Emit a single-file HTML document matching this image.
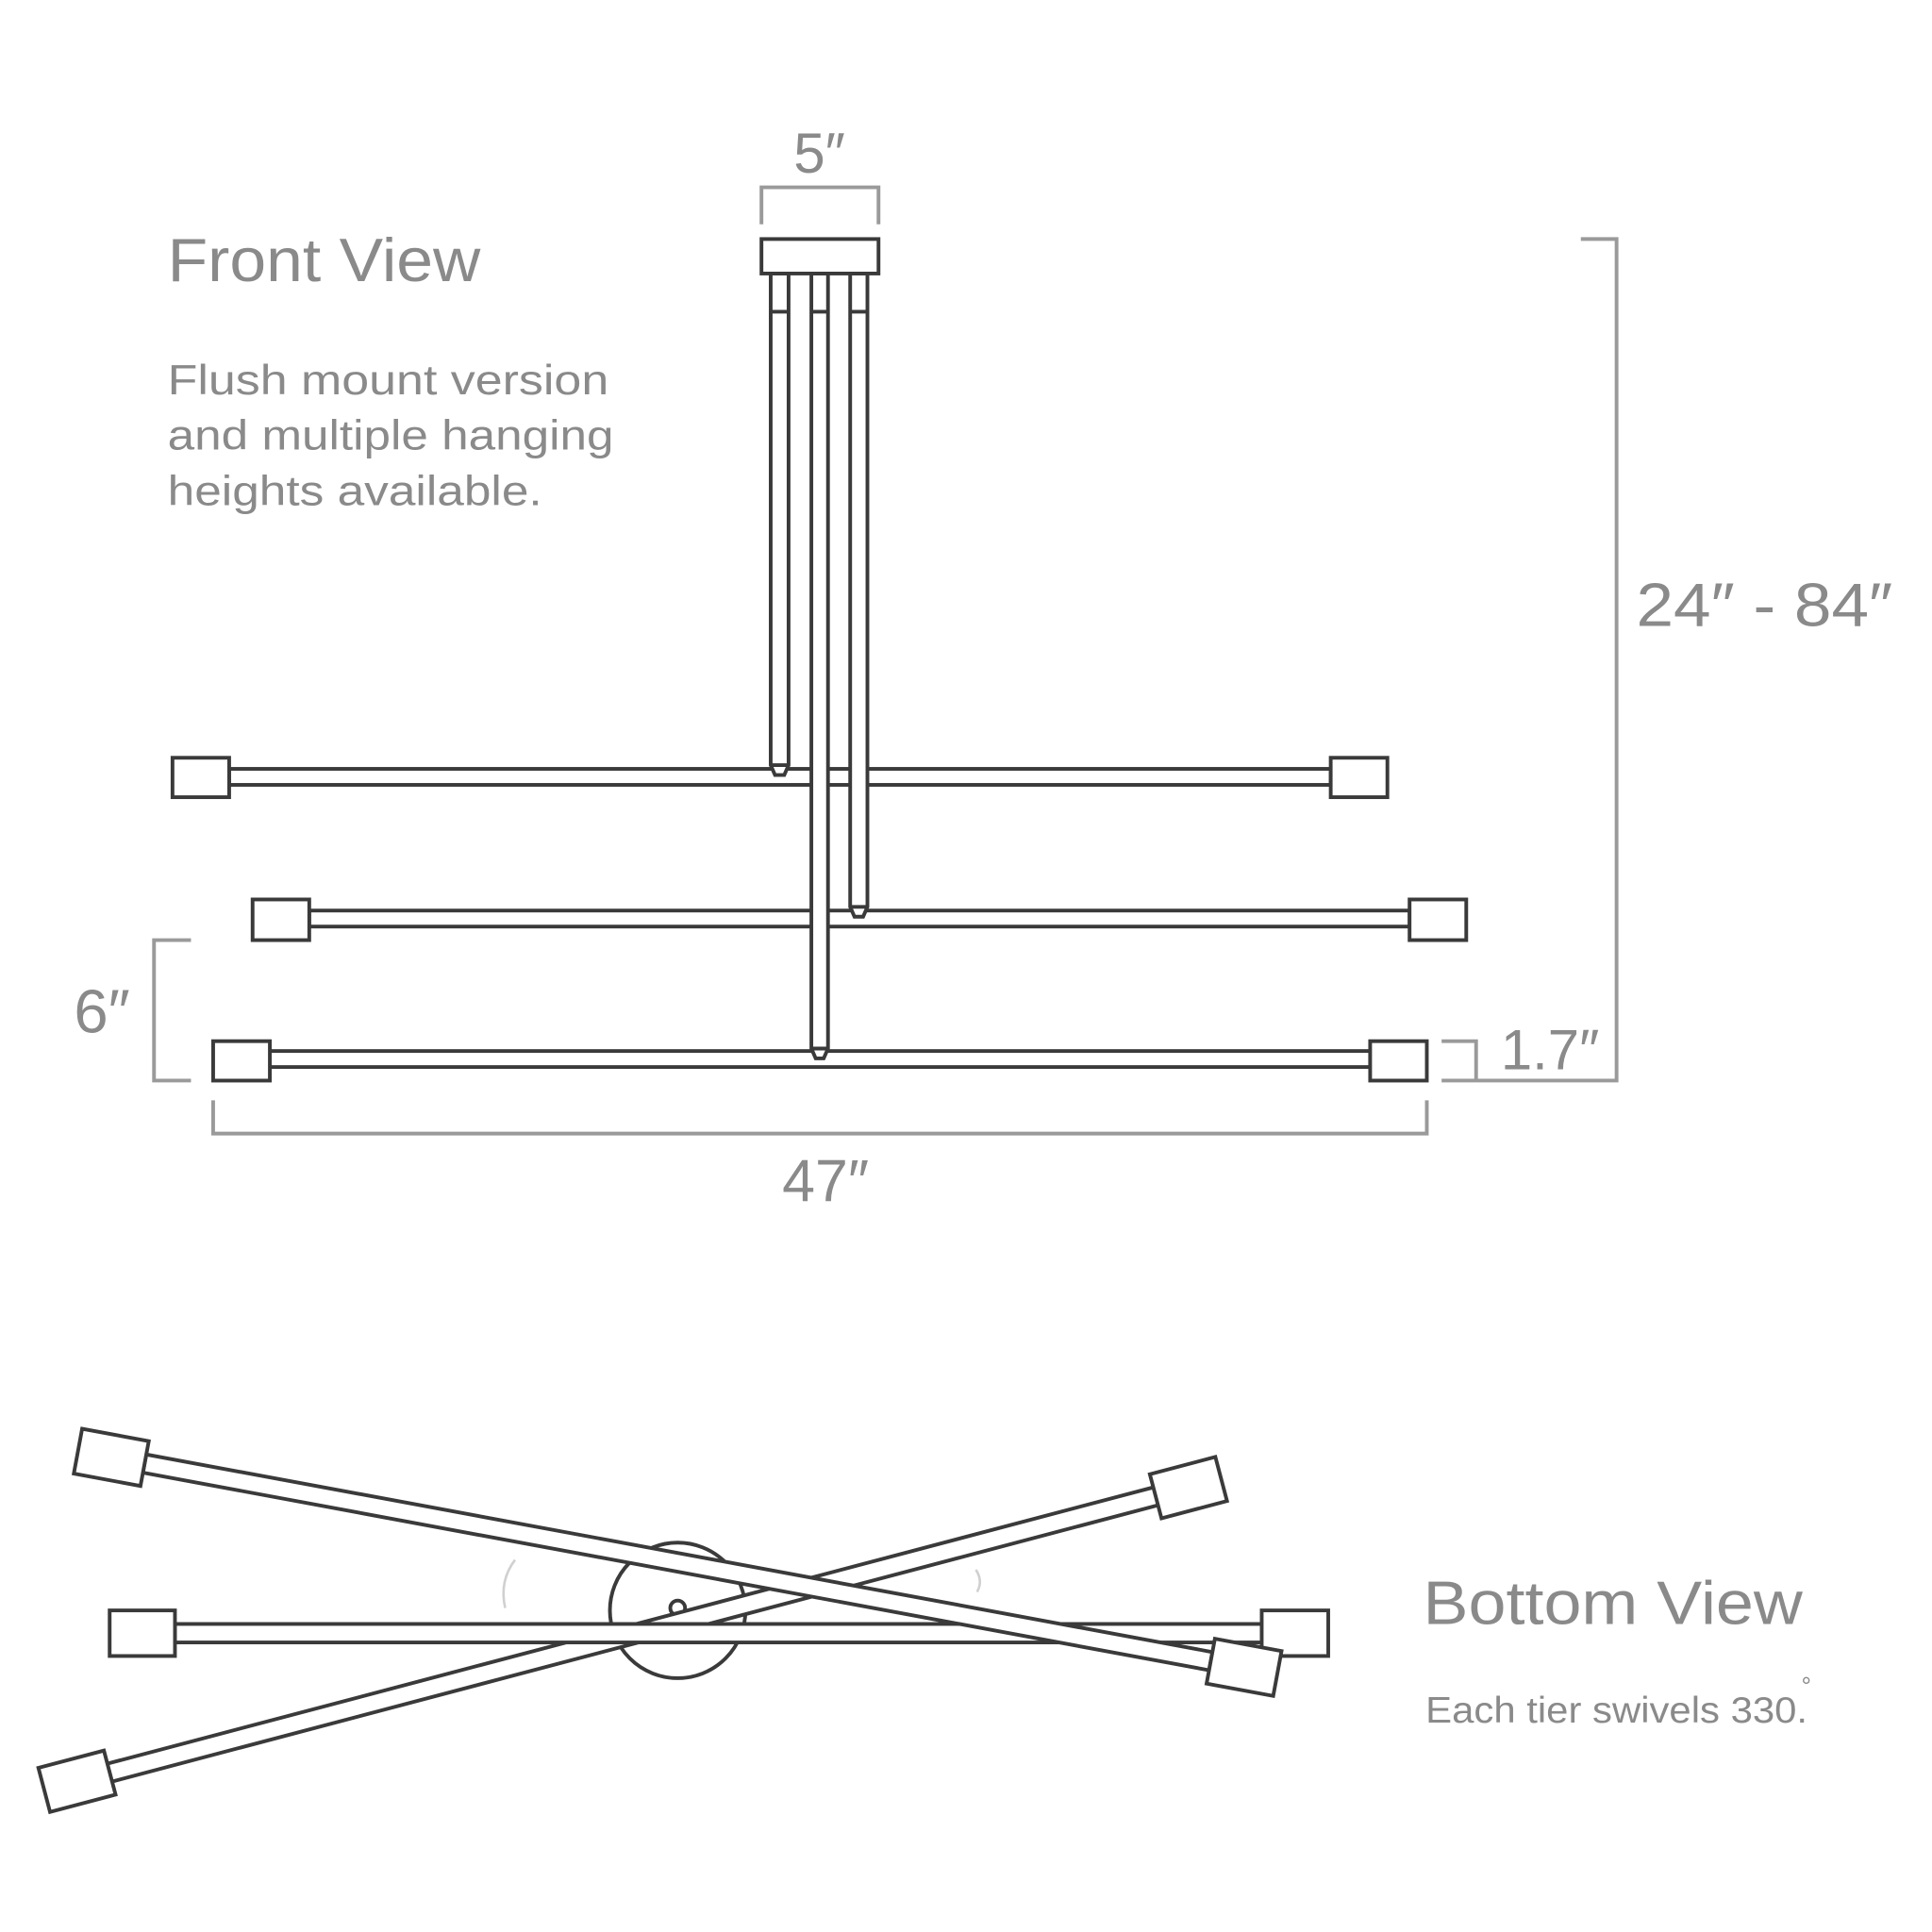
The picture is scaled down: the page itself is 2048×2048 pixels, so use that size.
<!DOCTYPE html>
<html><head><meta charset="utf-8"><style>
html,body{margin:0;padding:0;background:#fff}
svg{display:block}
text{font-family:"Liberation Sans",sans-serif;fill:#8a8a8a}
</style></head><body>
<svg width="2048" height="2048" viewBox="0 0 1568 1568" xmlns="http://www.w3.org/2000/svg">
<rect width="1568" height="1568" fill="#fff"/>
<g fill="none" stroke="#9a9a9a" stroke-width="3">
<path d="M618,182 V152 H713 V182"/>
<path d="M1283,194 H1312 V877 H1170"/>
<path d="M1170,845 H1198 V877"/>
<path d="M155,763 H125 V877 H155"/>
<path d="M173,893 V920 H1158 V893"/>
</g>
<text x="665" y="140" font-size="46" text-anchor="middle">5″</text>
<text x="1328" y="508" font-size="50" textLength="208" lengthAdjust="spacingAndGlyphs">24″ - 84″</text>
<text x="1218" y="868" font-size="46" textLength="80" lengthAdjust="spacingAndGlyphs">1.7″</text>
<text x="60" y="838" font-size="50">6″</text>
<text x="670" y="975" font-size="48" text-anchor="middle">47″</text>
<text x="136" y="228" font-size="50" textLength="254" lengthAdjust="spacingAndGlyphs">Front View</text>
<text x="136" y="320" font-size="34" textLength="358" lengthAdjust="spacingAndGlyphs">Flush mount version</text>
<text x="136" y="365" font-size="34" textLength="362" lengthAdjust="spacingAndGlyphs">and multiple hanging</text>
<text x="136" y="410" font-size="34" textLength="304" lengthAdjust="spacingAndGlyphs">heights available.</text>
<text x="1155" y="1318" font-size="50" textLength="308" lengthAdjust="spacingAndGlyphs">Bottom View</text>
<text x="1157" y="1398" font-size="30" textLength="310" lengthAdjust="spacingAndGlyphs">Each tier swivels 330.</text>
<text x="1462" y="1375" font-size="20">°</text>

<g fill="#fff" stroke="#3a3a3a" stroke-width="3">
<rect x="186" y="624" width="894" height="13"/>
<rect x="140" y="615" width="46" height="32"/>
<rect x="1080" y="615" width="46" height="32"/>
<rect x="251" y="739" width="893" height="13"/>
<rect x="205" y="730" width="46" height="33"/>
<rect x="1144" y="730" width="46" height="33"/>
<rect x="219" y="853" width="893" height="13"/>
<rect x="173" y="845" width="46" height="32"/>
<rect x="1112" y="845" width="46" height="32"/>
<path d="M625.5,222 V621 L629,629 H636.5 L640,621 V222 Z"/>
<path d="M625.5,621 H640 M625.5,253 H640" fill="none"/>
<path d="M658.5,222 V851 L662,859 H668.5 L672,851 V222 Z"/>
<path d="M658.5,851 H672 M658.5,253 H672" fill="none"/>
<path d="M690,222 V736 L693.5,744 H700.5 L704,736 V222 Z"/>
<path d="M690,736 H704 M690,253 H704" fill="none"/>
<rect x="618" y="194" width="95" height="28"/>

<circle cx="550" cy="1307" r="55"/>
<circle cx="550" cy="1305" r="6"/>
<g transform="translate(513.5,1326.5) rotate(-14.8)">
<rect x="-440" y="-7.5" width="880" height="15"/>
<rect x="-494" y="-18.5" width="55" height="37"/>
<rect x="439" y="-18.5" width="55" height="37"/>
</g>
<rect x="142" y="1318" width="882" height="15"/>
<rect x="89" y="1307" width="53" height="37"/>
<rect x="1024" y="1307" width="54" height="37"/>
<g transform="translate(550,1268) rotate(10.5)">
<rect x="-440" y="-7.5" width="880" height="15"/>
<rect x="-495" y="-18.5" width="55" height="37"/>
<rect x="440" y="-18.5" width="55" height="37"/>
</g>
</g>
<g fill="none" stroke="#d0d0d0" stroke-width="2">
<path d="M418,1266 Q405,1283 410,1305"/>
<path d="M792,1274 Q798,1283 793,1292"/>
</g>
</svg>
</body></html>
